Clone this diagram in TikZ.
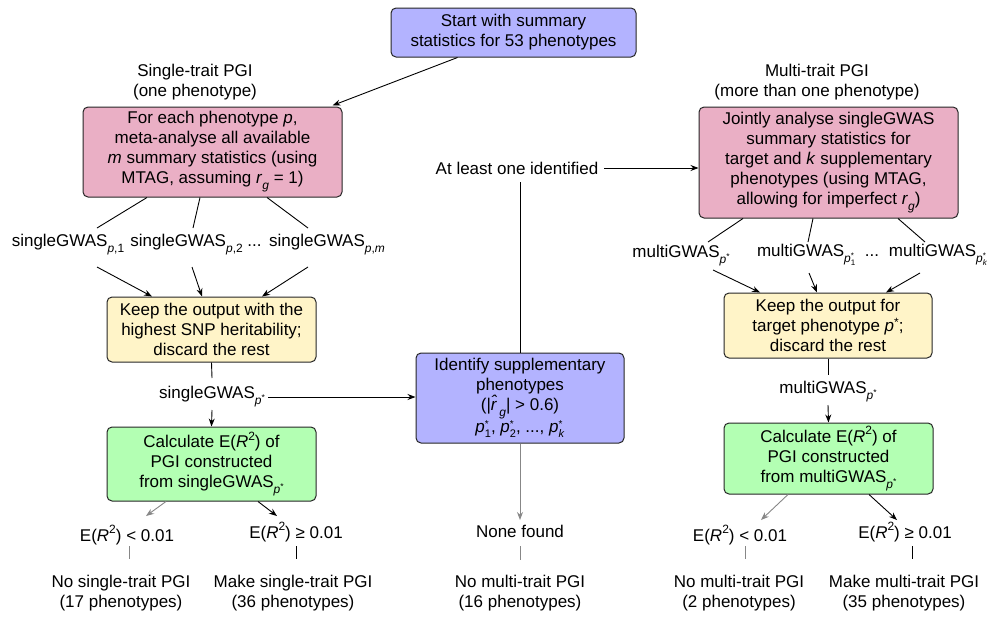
\documentclass[tikz,border=0pt]{standalone}
\usepackage{fontspec}
\setmainfont{Liberation Sans}
\usetikzlibrary{arrows.meta,calc}
\definecolor{cblue}{RGB}{179,179,255}
\definecolor{cpink}{RGB}{234,175,197}
\definecolor{cyel}{RGB}{255,244,200}
\definecolor{cgreen}{RGB}{179,255,179}
\definecolor{cgray}{RGB}{135,135,135}
\newcommand\lsub[1]{\raisebox{-0.35em}{\fontsize{12}{12}\selectfont #1}}
\newcommand\lsup[1]{\raisebox{0.45em}{\fontsize{12}{12}\selectfont #1}}
\newcommand\tsup[1]{\raisebox{0.35em}{\fontsize{8.5}{8.5}\selectfont #1}}
\newcommand\pss[2]{\textit{p}\makebox[0pt][l]{\raisebox{0.3em}{\fontsize{8}{8}\selectfont #1}}\raisebox{-0.3em}{\fontsize{8}{8}\selectfont #2}}
\newcommand\pst[1]{\textit{p}\makebox[0pt][l]{\raisebox{0.3em}{\fontsize{10}{10}\selectfont *}}\raisebox{-0.3em}{\fontsize{11}{11}\selectfont #1}}
\begin{document}
\begin{tikzpicture}[x=1pt,y=-1pt,
  box/.style={draw=black!85, rounded corners=5pt, align=center, inner sep=0pt, line width=1pt, font=\fontsize{17}{20}\selectfont},
  lbl/.style={align=center, inner sep=0pt, font=\fontsize{17}{20}\selectfont},
  arr/.style={-{Stealth[length=8pt,width=6pt]}, line width=0.9pt},
  ln/.style={line width=0.9pt},
  garr/.style={arr, draw=cgray},
  gln/.style={ln, draw=cgray}]
\useasboundingbox (0,0) rectangle (998,616);
% boxes
\node[box, fill=cblue, minimum width=245, minimum height=49] (start) at (513.5,32.5) {Start with summary\\statistics for 53 phenotypes};
\node[box, fill=cpink, minimum width=259, minimum height=90] (pinkL) at (212.5,152) {For each phenotype \textit{p},\\meta-analyse all available\\\textit{m} summary statistics (using\\MTAG, assuming \textit{r}\lsub{\textit{g}} = 1)};
\node[box, fill=cpink, minimum width=259, minimum height=111] (pinkR) at (828.5,162.5) {Jointly analyse singleGWAS\\summary statistics for\\target and \textit{k} supplementary\\phenotypes (using MTAG,\\allowing for imperfect \textit{r}\lsub{\textit{g}})};
\node[box, fill=cyel, minimum width=209, minimum height=65] (yelL) at (211.5,329.5) {Keep the output with the\\highest SNP heritability;\\discard the rest};
\node[box, fill=cyel, minimum width=208, minimum height=65] (yelR) at (828,325.5) {Keep the output for\\target phenotype \textit{p}\raisebox{0.3em}{\fontsize{12}{12}\selectfont *};\\discard the rest};
\node[box, fill=cgreen, minimum width=209, minimum height=74] (greenL) at (211.5,464) {Calculate E(\textit{R}\lsup{2}) of\\PGI constructed\\from singleGWAS\lsub{\textit{p}\tsup{*}}};
\node[box, fill=cgreen, minimum width=209, minimum height=71] (greenR) at (828.5,458.5) {Calculate E(\textit{R}\lsup{2}) of\\PGI constructed\\from multiGWAS\lsub{\textit{p}\tsup{*}}};
\node[box, fill=cblue, minimum width=208, minimum height=90] (blue) at (520,398) {Identify supplementary\\phenotypes\\(|\textit{\^r}\lsub{\textit{g}}| > 0.6)\\\pst{1}, \pst{2}, ..., \pst{\textit{k}}};
% labels
\node[lbl] (single) at (195,82) {Single-trait PGI\\(one phenotype)};
\node[lbl] (multi) at (817,82) {Multi-trait PGI\\(more than one phenotype)};
\node[lbl] (atl) at (517,168) {At least one identified};
\node[lbl] (sg1) at (68,245) {singleGWAS\lsub{\textit{p},1}};
\node[lbl] (sg2) at (196,245) {singleGWAS\lsub{\textit{p},2} ...};
\node[lbl] (sgm) at (327,245) {singleGWAS\lsub{\textit{p},\textit{m}}};
\node[lbl] (sgs) at (212,397) {singleGWAS\lsub{\textit{p}\tsup{*}}};
\node[lbl] (mg1) at (681,256) {multiGWAS\lsub{\textit{p}\tsup{*}}};
\node[lbl] (mg2) at (818,255) {multiGWAS\lsub{\pss{*}{1}}\ \ ...};
\node[lbl] (mgk) at (938,255) {multiGWAS\lsub{\pss{*}{\textit{k}}}};
\node[lbl] (mgs) at (828,392) {multiGWAS\lsub{\textit{p}\tsup{*}}};
\node[lbl] (elt1) at (127,535) {E(\textit{R}\lsup{2}) < 0.01};
\node[lbl] (ege1) at (296,532) {E(\textit{R}\lsup{2}) ≥ 0.01};
\node[lbl] (none) at (520,531) {None found};
\node[lbl] (elt2) at (740,535) {E(\textit{R}\lsup{2}) < 0.01};
\node[lbl] (ege2) at (905,532) {E(\textit{R}\lsup{2}) ≥ 0.01};
\node[lbl] (no1) at (121,593) {No single-trait PGI\\(17 phenotypes)};
\node[lbl] (mk1) at (293,593) {Make single-trait PGI\\(36 phenotypes)};
\node[lbl] (no3) at (520,593) {No multi-trait PGI\\(16 phenotypes)};
\node[lbl] (no2) at (739,593) {No multi-trait PGI\\(2 phenotypes)};
\node[lbl] (mk2) at (904,593) {Make multi-trait PGI\\(35 phenotypes)};
% connectors
\draw[arr] ($(start.south)+(-56,0)$) -- ($(pinkL.north east)+(-10,-1)$);
\draw[ln] ($(pinkL.south)+(-65.5,0)$) -- ($(sg1.center)+(29,-17)$);
\draw[ln] ($(pinkL.south)+(-12.5,0)$) -- ($(sg2.center)+(-3,-17)$);
\draw[ln] ($(pinkL.south)+(54.5,0)$) -- ($(sgm.center)+(-19,-17)$);
\draw[arr] ($(sg1.center)+(29,22)$) -- ($(yelL.north)+(-59.5,0)$);
\draw[arr] ($(sg2.center)+(-4,22)$) -- ($(yelL.north)+(-9.5,0)$);
\draw[arr] ($(sgm.center)+(-19,22)$) -- ($(yelL.north)+(50.5,0)$);
\draw[ln] (yelL.south) -- ($(sgs.center)+(0,-19)$);
\draw[arr] ($(sgs.center)+(0,13)$) -- (greenL.north);
\draw[arr] ($(sgs.east)+(3,0)$) -- (sgs.east -| blue.west);
\draw[garr] ($(greenL.south)+(-45.5,0)$) -- ($(elt1.center)+(19,-19)$);
\draw[arr] ($(greenL.south)+(46.5,0)$) -- ($(ege1.center)+(-19,-16)$);
\draw[gln] ($(elt1.center)+(2,11)$) -- ($(elt1.center)+(2,24)$);
\draw[ln] ($(ege1.center)+(0,14)$) -- ($(ege1.center)+(0,27)$);
\draw[garr] (blue.south) -- ($(none.center)+(0,-11)$);
\draw[gln] ($(none.center)+(0,15)$) -- ($(none.center)+(0,29)$);
\draw[ln] (blue.north) -- ($(atl.center)+(3,14)$);
\draw[arr] ($(atl.east)+(6,0)$) -- (atl.east -| pinkR.west);
\draw[ln] ($(pinkR.south)+(-85.5,0)$) -- ($(mg1.center)+(27,-14)$);
\draw[ln] ($(pinkR.south)+(-15.5,0)$) -- ($(mg2.center)+(-10,-13)$);
\draw[ln] ($(pinkR.south)+(69.5,0)$) -- ($(mgk.center)+(-13,-13)$);
\draw[arr] ($(mg1.center)+(32,14)$) -- ($(yelR.north)+(-68,0)$);
\draw[arr] ($(mg2.center)+(-9,18)$) -- ($(yelR.north)+(-11,0)$);
\draw[arr] ($(mgk.center)+(-18,18)$) -- ($(yelR.north)+(58,0)$);
\draw[ln] (yelR.south) -- ($(mgs.center)+(0,-17)$);
\draw[arr] ($(mgs.center)+(0,13)$) -- (greenR.north);
\draw[garr] ($(greenR.south)+(-40.5,0)$) -- ($(elt2.center)+(21,-15)$);
\draw[arr] ($(greenR.south)+(40.5,0)$) -- ($(ege2.center)+(-8,-12)$);
\draw[gln] ($(elt2.center)+(5,11)$) -- ($(elt2.center)+(5,24)$);
\draw[ln] ($(ege2.center)+(7,14)$) -- ($(ege2.center)+(7,27)$);
\end{tikzpicture}
\end{document}
